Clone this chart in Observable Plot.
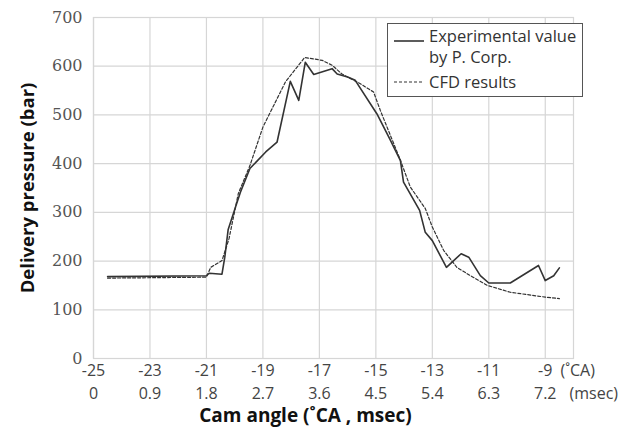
<!DOCTYPE html>
<html>
<head>
<meta charset="utf-8">
<script src="https://cdn.jsdelivr.net/npm/d3@7"></script>
<script src="https://cdn.jsdelivr.net/npm/@observablehq/plot@0.6"></script>
<style>
  html, body { margin: 0; padding: 0; background: white; }
</style>
</head>
<body>
<div id="chart"></div>
<script>
// Tick values / labels
const xTicks = [-25, -23, -21, -19, -17, -15, -13, -11, -9];
const msecLabels = ["0", "0.9", "1.8", "2.7", "3.6", "4.5", "5.4", "6.3", "7.2"];
const yTicks = [0, 100, 200, 300, 400, 500, 600, 700];

// Experimental value by P. Corp. (cam angle, pressure)
const expAngle = [-24.5, -21.0, -20.9, -20.45, -20.35, -20.23, -19.97, -19.8, -19.46, -18.9, -18.5, -18.03, -17.73, -17.5, -17.2, -16.55, -16.37, -16.0, -15.73, -14.96, -14.5, -14.13, -14.02, -13.45, -13.25, -13.0, -12.5, -12.3, -11.98, -11.71, -11.3, -11.0, -10.24, -9.24, -9.0, -8.7, -8.5];
const expPressure = [168, 170, 175, 173, 208, 265, 311, 341, 390, 424, 444, 569, 530, 608, 583, 595, 584, 578, 571, 502, 450, 406, 362, 304, 259, 242, 187, 198, 215, 208, 170, 155, 155, 191, 160, 170, 186];

// CFD results
const cfdAngle = [-24.5, -21.0, -20.85, -20.45, -20.2, -19.87, -19.46, -19.0, -18.2, -17.52, -16.9, -16.55, -16.2, -15.55, -15.08, -14.84, -14.13, -13.78, -13.25, -13.0, -12.6, -12.13, -11.65, -11.05, -10.24, -9.0, -8.5];
const cfdPressure = [165, 167, 187, 201, 246, 339, 396, 475, 568, 618, 612, 602, 584, 564, 547, 509, 407, 352, 308, 270, 222, 187, 170, 150, 136, 126, 123];

const expData = expAngle.map((a, i) => ({angle: a, pressure: expPressure[i]}));
const cfdData = cfdAngle.map((a, i) => ({angle: a, pressure: cfdPressure[i]}));

const sans = "'Open Sans', 'Noto Sans', sans-serif";
const gridColor = "#d6d6d6";
const lineColor = "#333";

const svg = Plot.plot({
  width: 631,
  height: 428,
  marginLeft: 93,
  marginRight: 58,
  marginTop: 17,
  marginBottom: 70,
  x: {domain: [-25, -8], axis: null},
  y: {domain: [0, 700], axis: null},
  style: {background: "white", fontFamily: sans},
  marks: [
    Plot.gridX(xTicks, {stroke: gridColor, strokeOpacity: 1, strokeWidth: 1.2}),
    Plot.gridY(yTicks, {stroke: gridColor, strokeOpacity: 1, strokeWidth: 1.2}),
    Plot.frame({stroke: gridColor, strokeWidth: 1.2}),
    Plot.line(cfdData, {x: "angle", y: "pressure", stroke: lineColor, strokeWidth: 1.2, strokeDasharray: "3,2"}),
    Plot.line(expData, {x: "angle", y: "pressure", stroke: lineColor, strokeWidth: 1.6}),
    // y tick labels
    Plot.text(yTicks, {y: d => d, text: d => String(d), frameAnchor: "left", textAnchor: "end", lineAnchor: "middle", dx: -11, fontFamily: "'DejaVu Serif', serif", fontSize: 16, fill: "#555"}),
    // x tick labels row 1 (cam angle)
    Plot.text(xTicks, {x: d => d, text: d => String(d), frameAnchor: "bottom", lineAnchor: "middle", dy: 12, fontSize: 16, fill: "#444"}),
    // x tick labels row 2 (msec)
    Plot.text(xTicks, {x: d => d, text: (d, i) => msecLabels[i], frameAnchor: "bottom", lineAnchor: "middle", dy: 35, fontSize: 16, fill: "#444"}),
    Plot.text(["(˚CA)"], {frameAnchor: "bottom-right", textAnchor: "start", lineAnchor: "middle", dx: -13, dy: 12, fontSize: 16, fill: "#444"}),
    Plot.text(["(msec)"], {frameAnchor: "bottom-right", textAnchor: "start", lineAnchor: "middle", dx: -4, dy: 35, fontSize: 16, fill: "#444"}),
    // axis titles
    Plot.text(["Cam angle (˚CA , msec)"], {frameAnchor: "bottom-left", textAnchor: "middle", lineAnchor: "middle", dx: 212, dy: 57, fontSize: 19, fontWeight: "bold", fill: "#111"}),
    Plot.text(["Delivery pressure (bar)"], {frameAnchor: "left", textAnchor: "middle", lineAnchor: "middle", rotate: -90, dx: -65, fontSize: 18.5, fontWeight: "bold", fill: "#111"})
  ]
});

// Legend box
const g = d3.select(svg).append("g")
  .attr("font-family", sans).attr("font-size", 16.5).attr("fill", "#333").attr("text-anchor", "start");
g.append("rect").attr("x", 387.5).attr("y", 23.5).attr("width", 195).attr("height", 73)
  .attr("fill", "white").attr("stroke", "#555").attr("stroke-width", 1);
g.append("line").attr("x1", 394).attr("x2", 424).attr("y1", 41).attr("y2", 41)
  .attr("stroke", lineColor).attr("stroke-width", 1.6);
g.append("line").attr("x1", 394).attr("x2", 424).attr("y1", 82).attr("y2", 82)
  .attr("stroke", lineColor).attr("stroke-width", 1.2).attr("stroke-dasharray", "3,2");
g.append("text").attr("x", 429).attr("y", 36).attr("dy", "0.35em").attr("text-anchor", "start").text("Experimental value");
g.append("text").attr("x", 429).attr("y", 57).attr("dy", "0.35em").attr("text-anchor", "start").text("by P. Corp.");
g.append("text").attr("x", 429).attr("y", 82).attr("dy", "0.35em").attr("text-anchor", "start").text("CFD results");

document.getElementById("chart").appendChild(svg);
</script>
</body>
</html>
